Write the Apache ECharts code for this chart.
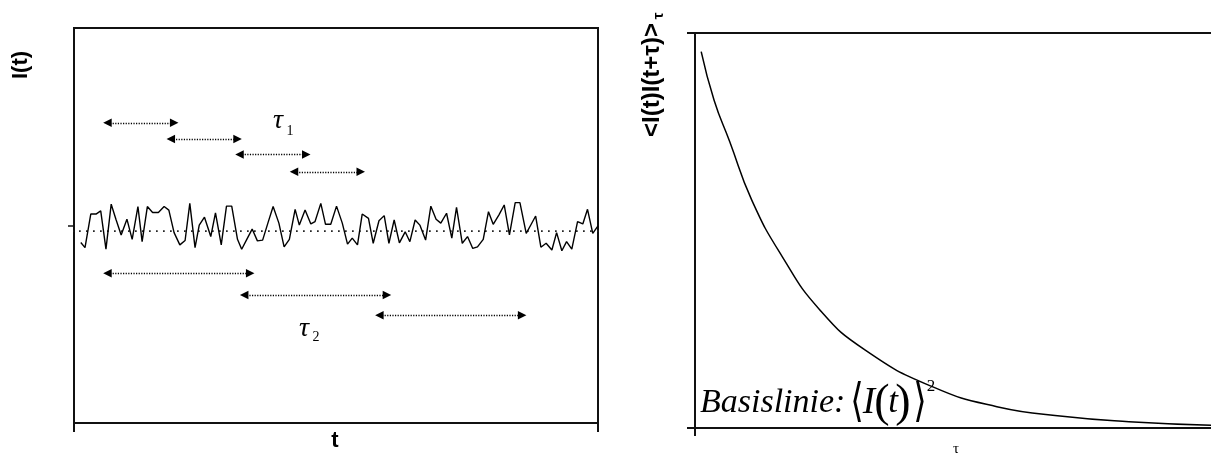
<!DOCTYPE html>
<html><head><meta charset="utf-8">
<script src="https://cdn.jsdelivr.net/npm/echarts@6/dist/echarts.min.js"></script>
<style>html,body{margin:0;padding:0;background:#fff}#c{width:1211px;height:455px}</style>
</head><body><div id="c"></div>
<script>
// ---- Left panel: fluctuating intensity I(t) ----
const signalT = [1.3,2.1,3.2,4.2,5.1,6.1,7.1,8.0,9.0,10.1,
  11.1,12.2,13.0,14.0,15.0,16.1,17.2,18.1,19.1,20.2,
  21.2,22.1,23.1,23.9,24.9,26.1,27.0,28.1,29.1,30.1,
  31.2,32.0,33.1,34.0,35.0,36.0,37.0,38.0,39.1,40.1,
  41.1,42.2,43.0,44.1,45.2,46.0,47.1,48.0,49.0,50.1,
  51.2,52.2,53.1,54.1,55.0,56.2,57.1,58.2,59.2,60.1,
  61.1,62.1,63.2,64.1,65.1,66.0,67.1,68.1,69.1,70.0,
  71.1,72.1,73.0,74.1,75.1,76.1,77.0,78.1,79.1,80.0,
  81.1,82.1,83.1,84.2,85.1,86.3,87.2,88.1,89.1,90.1,
  91.2,92.1,93.1,94.0,95.0,96.1,97.1,98.0,99.0,100];
const signalI = [45.7,44.4,52.9,52.9,53.7,44.0,55.4,51.6,47.6,51.6,
  46.5,54.8,45.9,54.8,53.3,53.3,54.8,53.9,48.2,45.1,
  46.2,55.6,44.4,50.1,52.1,47.2,53.2,45.1,54.9,54.9,
  46.5,44.0,46.8,49.1,46.1,46.3,50.6,54.8,50.6,44.6,
  46.5,54.1,50.1,53.9,50.4,51.0,55.6,50.3,50.3,54.9,
  50.6,45.3,46.8,45.1,52.9,51.8,45.5,51.2,52.5,45.5,
  51.4,45.6,48.4,45.9,51.4,50.1,46.3,54.9,51.6,50.6,
  53.1,46.8,54.6,45.5,47.2,44.2,44.6,46.5,53.5,50.3,
  52.7,55.2,47.6,55.8,55.8,48.0,50.2,52.4,44.5,45.5,
  43.8,48.2,43.6,45.9,44.0,51.0,50.4,54.1,48.0,49.9];
const meanT = [-3.05, 101.7];
const meanLevel = 48.6;
const leftTickValue = 50;
// sampling windows tau1 (short) and tau2 (long)
const tau1Start = [5.6, 17.7, 30.8, 41.2];
const tau1Level = [76.0, 71.9, 68.0, 63.6];
const tau1Length = 14.3;
const tau2Start = [5.6, 31.7, 57.5];
const tau2Level = [37.9, 32.4, 27.3];
const tau2Length = 28.8;

// ---- Right panel: autocorrelation decay ----
const lagTau = [1.2, 3.7, 6.7, 11.0, 16.9, 24.2, 33.0, 46.1, 58.5, 71.7, 84.1, 100];
const corrValue = [95.3, 83.0, 72.6, 57.7, 43.4, 29.9, 19.7, 10.4, 5.4, 2.9, 1.6, 0.7];

// ---- Texts ----
const leftYName = 'I(t)';
const leftXName = 't';
const tauSymbol = 'τ';
const tau1Sub = '1';
const tau2Sub = '2';
const rightYName = '<I(t)I(t+τ)>';
const rightYSub = 'τ';
const rightXName = 'τ';
const baselineWord = 'Basislinie:';
const baselineParts = ['⟨', 'I', '(', 't', ')', '⟩', '2'];

const sans = '"Liberation Sans", Arial, sans-serif';
const serif = '"Liberation Serif", "Times New Roman", serif';

// arrow heads are centred on the line ends; pull the ends in by half a head
const headHalf = 0.78; // ~4 px in left-panel time units
function arrowLines(starts, levels, len) {
  return starts.map((s, i) => [
    {coord: [s + headHalf, levels[i]]},
    {coord: [s + len - headHalf, levels[i]]}
  ]);
}
const arrowMark = (data) => ({
  silent: true,
  symbol: ['triangle', 'triangle'],
  symbolSize: [8.5, 8.5],
  label: {show: false},
  emphasis: {disabled: true},
  lineStyle: {type: [1.2, 1.4], color: '#000', width: 1.3},
  itemStyle: {color: '#000'},
  data: data
});

const chart = echarts.init(document.getElementById('c'), null, {renderer: 'canvas'});
const txt = (text, x, y, font, extra) => Object.assign({
  type: 'text', x: x, y: y, silent: true,
  style: {text: text, font: font, fill: '#000', align: 'center', verticalAlign: 'middle'}
}, extra || {});

chart.setOption({
  animation: false,
  backgroundColor: '#fff',
  grid: [
    {left: 74, top: 28, width: 524, height: 395, show: true, borderColor: '#111', borderWidth: 2, backgroundColor: 'transparent'},
    {left: 695, top: 33, right: 0, height: 395}
  ],
  xAxis: [
    {gridIndex: 0, type: 'value', min: 0, max: 100, interval: 100,
     axisLine: {lineStyle: {color: '#111', width: 2}},
     axisTick: {show: true, length: 9, lineStyle: {color: '#111', width: 2}},
     axisLabel: {show: false}, splitLine: {show: false}},
    {gridIndex: 1, type: 'value', min: 0, max: 100, interval: 100,
     axisLine: {lineStyle: {color: '#111', width: 2}},
     axisTick: {show: true, length: 8, customValues: [0], lineStyle: {color: '#111', width: 2}},
     axisLabel: {show: false}, splitLine: {show: false}}
  ],
  yAxis: [
    {gridIndex: 0, type: 'value', min: 0, max: 100, interval: 50,
     axisLine: {show: true, lineStyle: {color: '#111', width: 2}},
     axisTick: {show: true, length: 6, customValues: [leftTickValue], lineStyle: {color: '#111', width: 1.5}},
     axisLabel: {show: false}, splitLine: {show: false}},
    {gridIndex: 1, type: 'value', min: 0, max: 100, interval: 100,
     axisLine: {show: true, lineStyle: {color: '#111', width: 2}},
     axisTick: {show: true, length: 8, lineStyle: {color: '#111', width: 2}},
     axisLabel: {show: false},
     splitLine: {show: true, lineStyle: {color: '#111', width: 2}}}
  ],
  series: [
    {type: 'line', xAxisIndex: 0, yAxisIndex: 0, clip: false, symbol: 'none', silent: true,
     lineStyle: {color: '#222', width: 1.7, type: [1.7, 5.3]},
     data: meanT.map(t => [t, meanLevel])},
    {type: 'line', xAxisIndex: 0, yAxisIndex: 0, symbol: 'none', silent: true,
     lineStyle: {color: '#000', width: 1.4},
     data: signalT.map((t, i) => [t, signalI[i]])},
    {type: 'line', xAxisIndex: 0, yAxisIndex: 0, data: [], silent: true,
     markLine: arrowMark(arrowLines(tau1Start, tau1Level, tau1Length))},
    {type: 'line', xAxisIndex: 0, yAxisIndex: 0, data: [], silent: true,
     markLine: arrowMark(arrowLines(tau2Start, tau2Level, tau2Length))},
    {type: 'line', xAxisIndex: 1, yAxisIndex: 1, symbol: 'none', silent: true,
     smooth: 0.5,
     lineStyle: {color: '#000', width: 1.5},
     data: lagTau.map((t, i) => [t, corrValue[i]])}
  ],
  graphic: [
    txt(leftYName, 21, 65, 'bold 22px ' + sans, {rotation: Math.PI / 2}),
    txt(leftXName, 335, 441, 'bold 22px ' + sans),
    txt(tauSymbol, 278, 121, 'italic 28px ' + serif),
    txt(tau1Sub, 290, 131, '14px ' + serif),
    txt(tauSymbol, 304, 329, 'italic 28px ' + serif),
    txt(tau2Sub, 316, 337, '14px ' + serif),
    txt(rightYName, 652, 80, 'bold 24px ' + sans, {rotation: Math.PI / 2}),
    txt(rightYSub, 659, 16, 'bold 15px ' + sans, {rotation: Math.PI / 2}),
    txt(rightXName, 956, 449, '15px ' + serif),
    {type: 'text', x: 700, y: 403, silent: true,
     style: {text: baselineWord, font: 'italic 34px ' + serif, fill: '#000', align: 'left', verticalAlign: 'middle'}},
    txt(baselineParts[0], 857, 404, '46px "DejaVu Serif", ' + serif, {scaleX: 0.75}),
    txt(baselineParts[1], 869, 403, 'italic 37px ' + serif),
    txt(baselineParts[2], 882, 404, '46px ' + serif),
    txt(baselineParts[3], 893, 403, 'italic 35px ' + serif),
    txt(baselineParts[4], 903, 404, '46px ' + serif),
    txt(baselineParts[5], 920, 404, '46px "DejaVu Serif", ' + serif, {scaleX: 0.75}),
    txt(baselineParts[6], 931, 387, '17px ' + serif)
  ]
});
</script></body></html>
